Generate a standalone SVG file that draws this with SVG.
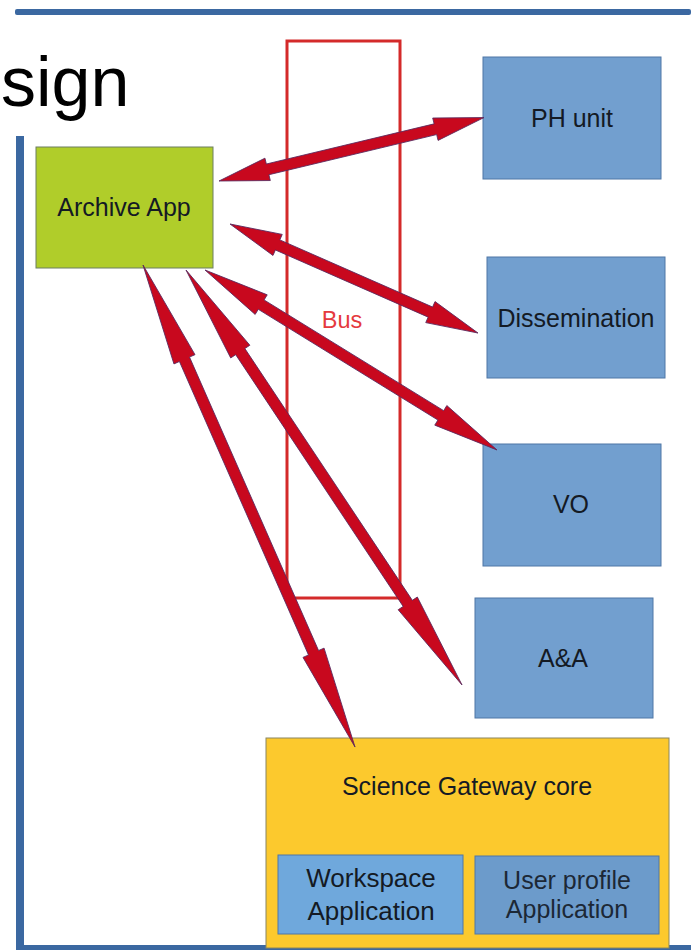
<svg xmlns="http://www.w3.org/2000/svg" width="691" height="950" viewBox="0 0 691 950">
<style>
text{font-family:"Liberation Sans",Arial,sans-serif;fill:#141a24;text-anchor:middle;font-size:25px}
.blue{fill:#729fcf;stroke:#4f77a6;stroke-width:1}
.arrow{fill:#c8081e;stroke:#5a2a5e;stroke-width:0.8;stroke-linejoin:miter}
.frame{fill:#3b68a1}
</style>
<rect width="691" height="950" fill="#ffffff"/>
<g id="frame">
<rect class="frame" x="15" y="9" width="676" height="6" rx="2"/>
<rect class="frame" x="16" y="136" width="8" height="814"/>
<rect class="frame" x="16" y="945" width="675" height="5"/>
</g>
<g id="title">
<text x="1" y="106" style="font-size:70px;text-anchor:start;fill:#000">sign</text>
</g>
<g id="bus">
<rect x="287" y="41" width="113" height="557" fill="none" stroke="#d42a2a" stroke-width="3"/>
<text x="342" y="328" style="font-size:23.5px;fill:#e53a3e">Bus</text>
</g>
<g id="archive-app">
<rect x="36" y="147" width="177" height="121" fill="#b0cd2a" stroke="#6c7f60" stroke-width="1"/>
<text x="124" y="216">Archive App</text>
</g>
<g id="ph-unit">
<rect class="blue" x="483" y="57" width="178" height="122"/>
<text x="572" y="127">PH unit</text>
</g>
<g id="dissemination">
<rect class="blue" x="487" y="257" width="178" height="121"/>
<text x="576" y="327">Dissemination</text>
</g>
<g id="vo">
<rect class="blue" x="483" y="444" width="178" height="122"/>
<text x="571" y="513">VO</text>
</g>
<g id="aa">
<rect class="blue" x="475" y="598" width="178" height="120"/>
<text x="563" y="667">A&amp;A</text>
</g>
<g id="science-gateway-core">
<rect x="266" y="738" width="403" height="210" fill="#fcc92d" stroke="#8a8660" stroke-width="1"/>
<text x="467" y="795">Science Gateway core</text>
</g>
<g id="workspace-application">
<rect x="278" y="855" width="185" height="79" fill="#6fa8dc" stroke="#4f77a6" stroke-width="1"/>
<text x="371" y="887" style="font-size:26px">Workspace</text>
<text x="371" y="920" style="font-size:26px">Application</text>
</g>
<g id="user-profile-application">
<rect x="475" y="856" width="184" height="78" fill="#6c9bcb" stroke="#4f77a6" stroke-width="1"/>
<text x="567" y="889" style="fill:#1c2836">User profile</text>
<text x="567" y="918" style="fill:#1c2836">Application</text>
</g>
<g id="connectors">
<polygon class="arrow" transform="translate(219,181) rotate(-13.46)" points="0,0 50,-11.5 50,-5.5 222.5,-5.5 222.5,-11.5 272.5,0 222.5,11.5 222.5,5.5 50,5.5 50,11.5"/>
<polygon class="arrow" transform="translate(230,224) rotate(23.73)" points="0,0 52,-11.5 52,-5.5 218.9,-5.5 218.9,-11.5 270.9,0 218.9,11.5 218.9,5.5 52,5.5 52,11.5"/>
<polygon class="arrow" transform="translate(205,270) rotate(31.65)" points="0,0 66,-11.5 66,-5.5 277,-5.5 277,-11.5 343,0 277,11.5 277,5.5 66,5.5 66,11.5"/>
<polygon class="arrow" transform="translate(186,270) rotate(56.37)" points="0,0 98,-11.5 98,-5.5 400.4,-5.5 400.4,-11.5 498.4,0 400.4,11.5 400.4,5.5 98,5.5 98,11.5"/>
<polygon class="arrow" transform="translate(143,265) rotate(66.26)" points="0,0 103,-11.5 103,-5.5 423.6,-5.5 423.6,-11.5 526.6,0 423.6,11.5 423.6,5.5 103,5.5 103,11.5"/>
</g>
</svg>
